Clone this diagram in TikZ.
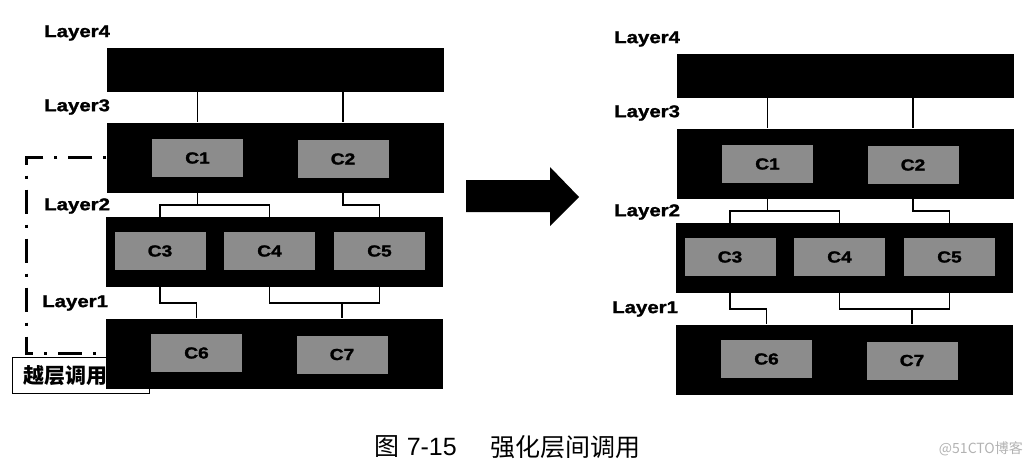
\documentclass[tikz,border=0pt]{standalone}
\usepackage{fontspec}
\setmainfont{Liberation Sans}
\newfontfamily\lblfont[FakeStretch=1.2,FakeBold=1.5]{Liberation Sans}
\newfontfamily\cjk{Noto Sans CJK SC}
\usetikzlibrary{positioning,calc}

\begin{document}
\begin{tikzpicture}[
    x=1pt, y=-1pt,
    bar/.style={fill=black,minimum width=337pt,minimum height=70pt,inner sep=0pt},
    topbar/.style={bar,minimum height=44pt},
    comp/.style={fill=black!45,minimum width=91pt,minimum height=38pt,inner sep=0pt,
                 font=\lblfont\bfseries\fontsize{16}{16}\selectfont},
    lname/.style={anchor=west,inner sep=0pt,font=\lblfont\bfseries\fontsize{17}{17}\selectfont},
    wire/.style={line width=1.9pt},
    skip/.style={line width=2.6pt,dash pattern=on 3pt off 11pt on 24pt off 11pt},
  ]
  \useasboundingbox (0,0) rectangle (1031,472);

  % --- left: layers with a cross-layer call ---
  \node[lname] (a-l4) at (44,33)  {Layer4};
  \node[lname] (a-l3) at (44,107) {Layer3};
  \node[lname] (a-l2) at (44,206) {Layer2};
  \node[lname] (a-l1) at (42,303) {Layer1};

  % the call box sits under the Layer1 bar
  \node[draw,fill=white,line width=0.8pt,anchor=north west,
        minimum width=137pt,minimum height=36pt,text width=115pt,
        inner xsep=11pt,align=left,
        font=\cjk\bfseries\fontsize{21}{21}\selectfont] (a-call) at (12,357) {越层调用};

  \node[topbar] (a4) at (275,70) {};
  \node[bar]    (a3) at (275,157.5) {};
  \node[bar]    (a2) at (274,252) {};
  \node[bar]    (a1) at (274,353.5) {};

  \draw[skip] (a3.west) -- ++(-80,0) |- (a1.west);

  \node[comp] (a-c1) at (197.5,158) {C1};
  \node[comp] (a-c2) at (343,159)   {C2};
  \node[comp] (a-c3) at (160,251)   {C3};
  \node[comp] (a-c4) at (269.5,251) {C4};
  \node[comp] (a-c5) at (379.5,251) {C5};
  \node[comp] (a-c6) at (196.5,353) {C6};
  \node[comp] (a-c7) at (342,354.5) {C7};

  \path (a3.south) -- (a2.north) coordinate[pos=.5] (a32);
  \path (a2.south) -- (a1.north) coordinate[pos=.5] (a21);

  \draw[wire] (a-c1 |- a4.south) -- (a-c1 |- a3.north);
  \draw[wire] (a-c2 |- a4.south) -- (a-c2 |- a3.north);
  \draw[wire] (a-c1 |- a3.south) -- (a-c1 |- a32);
  \draw[wire] (a-c3 |- a2.north) -- (a-c3 |- a32) -- (a-c4 |- a32) -- (a-c4 |- a2.north);
  \draw[wire] (a-c2 |- a3.south) -- (a-c2 |- a32) -- (a-c5 |- a32) -- (a-c5 |- a2.north);
  \draw[wire] (a-c3 |- a2.south) -- (a-c3 |- a21) -- (a-c6 |- a21) -- (a-c6 |- a1.north);
  \draw[wire] (a-c4 |- a2.south) -- (a-c4 |- a21) -- (a-c5 |- a21) -- (a-c5 |- a2.south);
  \draw[wire] (a-c7 |- a21) -- (a-c7 |- a1.north);

  % --- big arrow ---
  \fill (466,180) -- (550,180) -- (550,167) -- (579,197) -- (550,226)
        -- (550,212) -- (466,212) -- cycle;

  % --- right: strict layering ---
  \begin{scope}[shift={(570,6)}]
    \node[lname] (b-l4) at (44,33)  {Layer4};
    \node[lname] (b-l3) at (44,107) {Layer3};
    \node[lname] (b-l2) at (44,206) {Layer2};
    \node[lname] (b-l1) at (42,303) {Layer1};

    \node[topbar] (b4) at (275,70) {};
    \node[bar]    (b3) at (275,157.5) {};
    \node[bar]    (b2) at (274,252) {};
    \node[bar]    (b1) at (274,353.5) {};

    \node[comp] (b-c1) at (197.5,158) {C1};
    \node[comp] (b-c2) at (343,159)   {C2};
    \node[comp] (b-c3) at (160,251)   {C3};
    \node[comp] (b-c4) at (269.5,251) {C4};
    \node[comp] (b-c5) at (379.5,251) {C5};
    \node[comp] (b-c6) at (196.5,353) {C6};
    \node[comp] (b-c7) at (342,354.5) {C7};

    \path (b3.south) -- (b2.north) coordinate[pos=.5] (b32);
    \path (b2.south) -- (b1.north) coordinate[pos=.5] (b21);

    \draw[wire] (b-c1 |- b4.south) -- (b-c1 |- b3.north);
    \draw[wire] (b-c2 |- b4.south) -- (b-c2 |- b3.north);
    \draw[wire] (b-c1 |- b3.south) -- (b-c1 |- b32);
    \draw[wire] (b-c3 |- b2.north) -- (b-c3 |- b32) -- (b-c4 |- b32) -- (b-c4 |- b2.north);
    \draw[wire] (b-c2 |- b3.south) -- (b-c2 |- b32) -- (b-c5 |- b32) -- (b-c5 |- b2.north);
    \draw[wire] (b-c3 |- b2.south) -- (b-c3 |- b21) -- (b-c6 |- b21) -- (b-c6 |- b1.north);
    \draw[wire] (b-c4 |- b2.south) -- (b-c4 |- b21) -- (b-c5 |- b21) -- (b-c5 |- b2.south);
    \draw[wire] (b-c7 |- b21) -- (b-c7 |- b1.north);
  \end{scope}

  % --- caption ---
  \node[anchor=east,inner sep=0pt,font=\fontsize{25}{25}\selectfont] (capnum) at (457,447) {{\cjk 图} 7-15};
  \node[anchor=west,inner sep=0pt,font=\cjk\fontsize{25}{25}\selectfont] (captxt) at (490,447) {强化层间调用};
  \node[anchor=east,inner sep=0pt,text=black!30,font=\cjk\fontsize{14}{14}\selectfont] (mark) at (1023,449) {@51CTO博客};

\end{tikzpicture}
\end{document}
